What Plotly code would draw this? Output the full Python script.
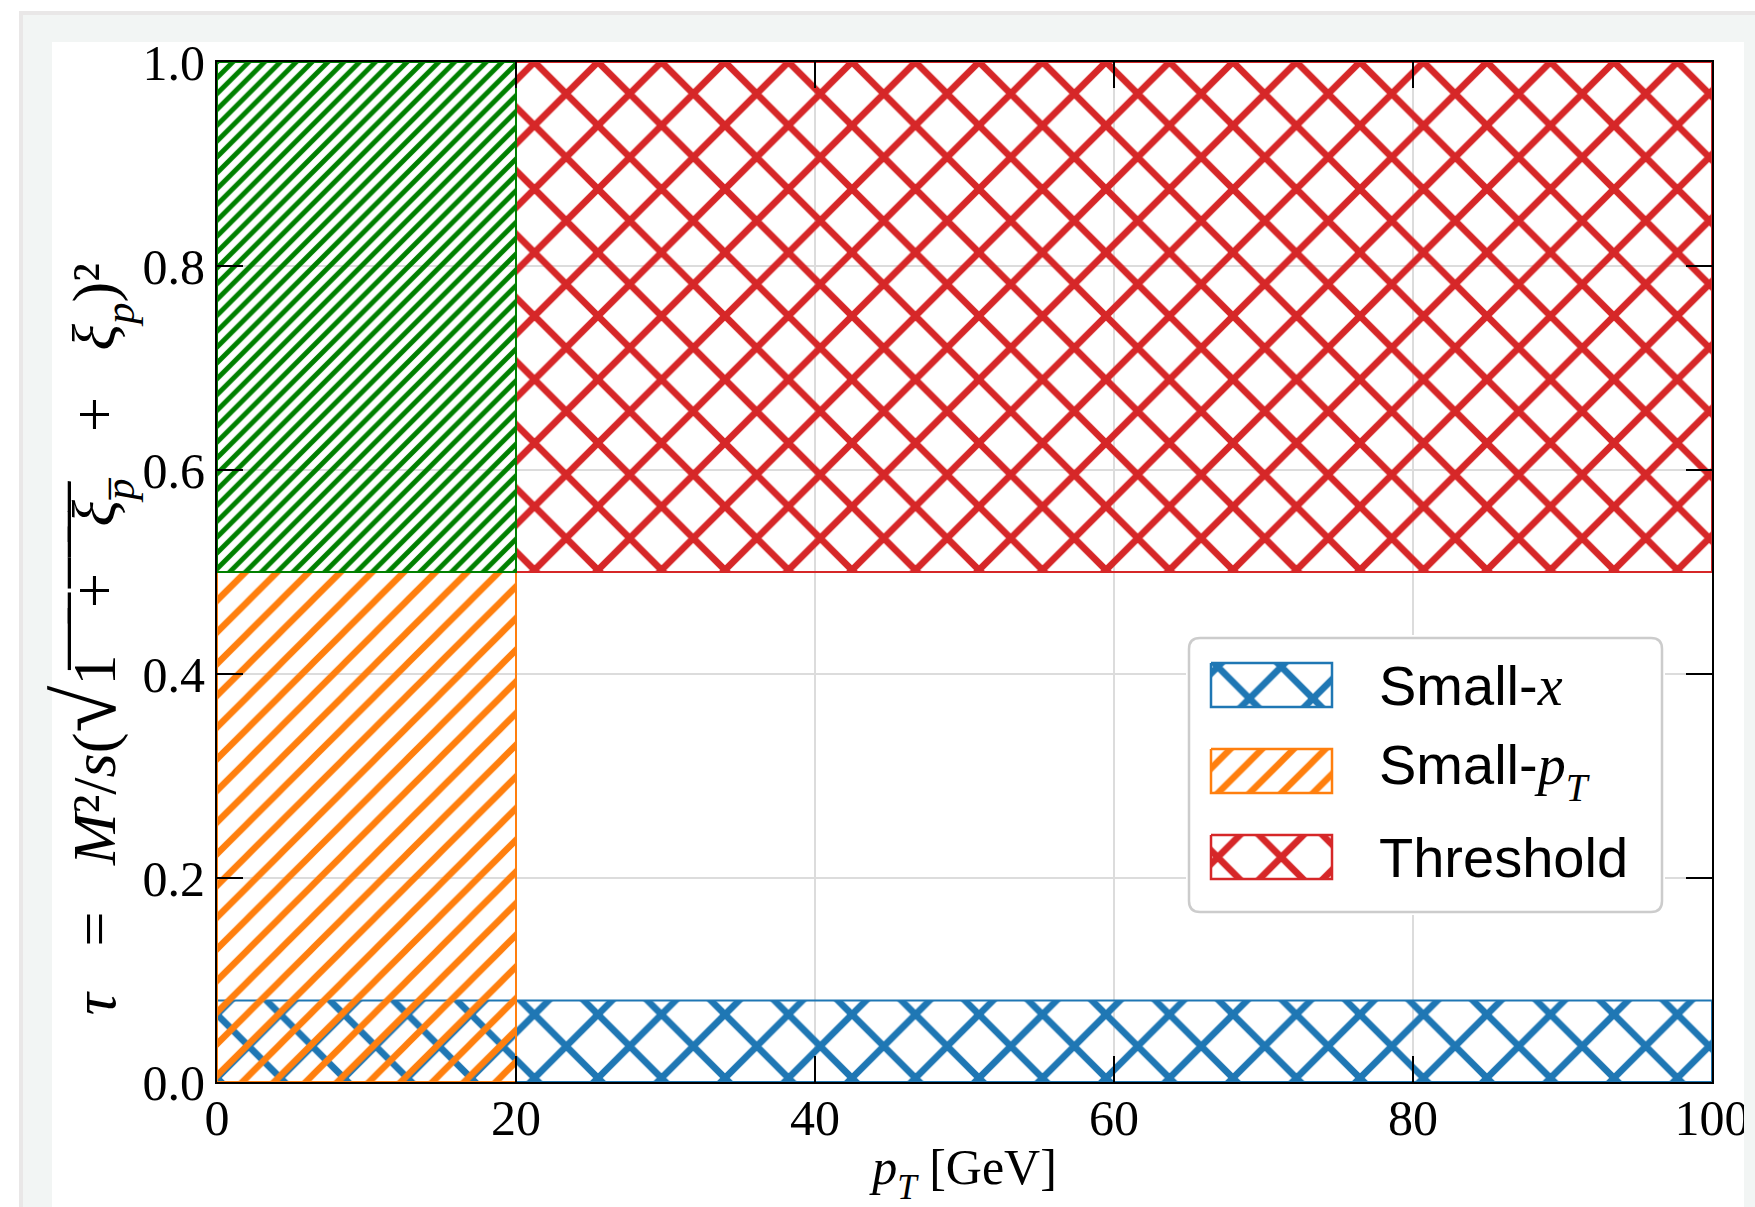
import plotly.graph_objects as go

# ---------------- data ----------------
region_names = ["Small-x", "Small-pT", "Threshold", "Large-tau"]
region_x_lo = [0, 0, 20, 0]
region_x_hi = [100, 20, 100, 20]
region_y_lo = [0.0, 0.0, 0.5, 0.5]
region_y_hi = [0.08, 0.5, 1.0, 1.0]
x_ticks = [0, 20, 40, 60, 80, 100]
y_ticks = [0.0, 0.2, 0.4, 0.6, 0.8, 1.0]

# ---------------- style ----------------
region_colors = ["#1f77b4", "#ff7f0e", "#d62728", "#008000"]
region_shapes = ["x", "/", "x", "/"]
region_psize = [44.9, 22.4, 44.9, 11.2]
region_solid = [0.28, 0.29, 0.28, 0.44]
in_legend = [True, True, True, False]

W, H = 1755, 1207
ML, MR, MT, MB = 217, 43, 62, 125
PW, PH = W - ML - MR, H - MT - MB
SERIF = "Liberation Serif"
SANS = "Liberation Sans"


def sub(s, base):
    """subscript via baseline shift (single text run)."""
    return (f'<span style="font-size:{round(base*0.7)}px;baseline-shift:-{round(base*0.3)}px">'
            f'{s}</span>')


legend_labels = [
    'Small-<span style="font-family:Liberation Serif"><i>x</i></span>',
    'Small-<span style="font-family:Liberation Serif"><i>p</i>' + sub('<i>T</i>', 56) + '</span>',
    'Threshold',
]


def px(xp):
    return (xp - ML) / PW


def py(yp):
    return (H - MB - yp) / PH


fig = go.Figure()

for i in range(len(region_names)):
    x0, x1, y0, y1 = region_x_lo[i], region_x_hi[i], region_y_lo[i], region_y_hi[i]
    fig.add_trace(go.Scatter(
        x=[x0, x1, x1, x0, x0], y=[y0, y0, y1, y1, y0],
        mode="lines", fill="toself", name=region_names[i],
        line=dict(color=region_colors[i], width=2),
        fillcolor="rgba(0,0,0,0)",
        fillpattern=dict(shape=region_shapes[i], size=region_psize[i],
                         solidity=region_solid[i], fgcolor=region_colors[i],
                         bgcolor="rgba(0,0,0,0)", fillmode="replace"),
        showlegend=False, hoverinfo="skip",
    ))

# ---------------- custom legend (inset axes) ----------------
LBX0, LBX1, LBY0, LBY1 = 1186, 1665, 635, 915  # legend area in px
LW, LH = LBX1 - LBX0, LBY1 - LBY0
sw_x0, sw_x1 = 25, 146
row_c0, row_pitch, sw_h = 50, 86, 44
leg_idx = [i for i in range(len(region_names)) if in_legend[i]]
for r, i in enumerate(leg_idx):
    yc = row_c0 + r * row_pitch
    ya, yb = yc - sw_h / 2, yc + sw_h / 2
    fig.add_trace(go.Scatter(
        x=[sw_x0, sw_x1, sw_x1, sw_x0, sw_x0], y=[ya, ya, yb, yb, ya],
        xaxis="x2", yaxis="y2", mode="lines", fill="toself",
        name=region_names[i],
        line=dict(color=region_colors[i], width=2.5),
        fillcolor="rgba(0,0,0,0)",
        fillpattern=dict(shape=region_shapes[i], size=region_psize[i],
                         solidity=region_solid[i], fgcolor=region_colors[i],
                         bgcolor="rgba(0,0,0,0)", fillmode="replace"),
        showlegend=False, hoverinfo="skip",
    ))
    fig.add_annotation(x=191, y=yc, xref="x2", yref="y2", text=legend_labels[r],
                       showarrow=False, xanchor="left", yanchor="middle",
                       font=dict(family=SANS, size=56, color="black"))

rr = 11
b0, b1, c0, c1 = 3, LW - 3, 3, LH - 3
legend_path = (f"M{b0+rr},{c0} L{b1-rr},{c0} Q{b1},{c0} {b1},{c0+rr} "
               f"L{b1},{c1-rr} Q{b1},{c1} {b1-rr},{c1} L{b0+rr},{c1} "
               f"Q{b0},{c1} {b0},{c1-rr} L{b0},{c0+rr} Q{b0},{c0} {b0+rr},{c0} Z")

shapes = [
    # page / card background
    dict(type="rect", xref="paper", yref="paper", x0=px(19), x1=px(W + 5), y0=py(11), y1=py(H + 5),
         fillcolor="#e9e7e7", line=dict(width=0), layer="below"),
    dict(type="rect", xref="paper", yref="paper", x0=px(23), x1=px(W + 5), y0=py(15), y1=py(H + 5),
         fillcolor="#f2f5f4", line=dict(width=0), layer="below"),
    dict(type="rect", xref="paper", yref="paper", x0=px(52), x1=px(1744), y0=py(42), y1=py(H + 5),
         fillcolor="white", line=dict(width=0), layer="below"),
    # right strip clipping the figure
    dict(type="rect", xref="paper", yref="paper", x0=px(1744), x1=px(W + 5), y0=py(15), y1=py(H + 5),
         fillcolor="#f2f5f4", line=dict(width=0), layer="above"),
    # legend frame
    dict(type="path", xref="x2", yref="y2", path=legend_path,
         fillcolor="rgba(255,255,255,0.8)", line=dict(color="#cccccc", width=2.5), layer="below"),
]


def overl(s):
    return "".join(c + "\u0305" for c in s)


YF = 62
SP = "\u2002\u2005"
ytitle = ('<i>τ</i>' + SP + '=' + SP + '<i>M</i>²/<i>s</i>('
          '<span style="font-size:86px">√</span>'
          + overl("1") + overl(SP + "+" + SP) + '<i>' + overl("ξ") + '</i>'
          + sub('<i>' + overl("p") + '</i>', YF)
          + SP + '+' + SP + '<i>ξ</i>' + sub('<i>p</i>', YF) + ')²'
          + '\u2003\u2003\u2006\u200b')

axis_common = dict(
    ticks="inside", ticklen=26, tickwidth=2, tickcolor="black",
    showline=True, linewidth=2, linecolor="black", mirror="ticks",
    showgrid=True, gridcolor="#dcdcdc", gridwidth=1.5, zeroline=False,
    tickfont=dict(family=SERIF, size=50, color="black"), automargin=False,
)

hidden_axis = dict(showticklabels=False, ticks="", showgrid=False, showline=False,
                   zeroline=False, fixedrange=True, automargin=False)

fig.update_layout(
    width=W, height=H,
    margin=dict(l=ML, r=MR, t=MT, b=MB, pad=0),
    paper_bgcolor="white", plot_bgcolor="white",
    showlegend=False,
    shapes=shapes,
    xaxis=dict(range=[0, 100], tickvals=x_ticks, ticktext=[str(v) for v in x_ticks],
               ticklabelstandoff=-9,
               title=dict(text="<i>p</i>" + sub("<i>T</i>", 50) + " [GeV]", standoff=38,
                          font=dict(family=SERIF, size=50, color="black")),
               **axis_common),
    yaxis=dict(range=[0, 1], tickvals=y_ticks, ticktext=[f"{v:.1f}" for v in y_ticks],
               title=dict(text=ytitle, standoff=4,
                          font=dict(family=SERIF, size=YF, color="black")),
               **axis_common),
    xaxis2=dict(domain=[px(LBX0), px(LBX1)], range=[0, LW], anchor="y2", **hidden_axis),
    yaxis2=dict(domain=[py(LBY1), py(LBY0)], range=[LH, 0], anchor="x2", **hidden_axis),
)

fig.write_html("out.html")
